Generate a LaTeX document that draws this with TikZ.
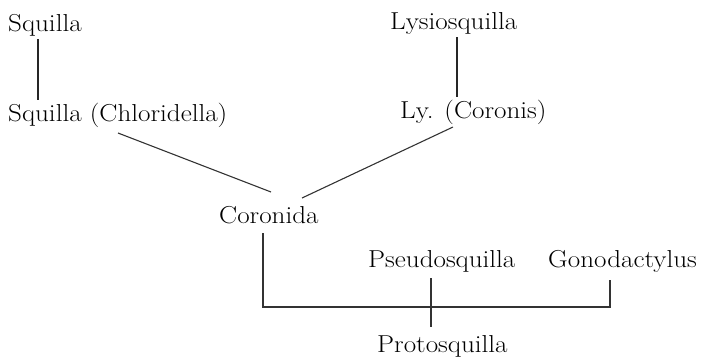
\documentclass[tikz,border=0pt]{standalone}
\usepackage{graphicx}
\begin{document}
\begin{tikzpicture}[x=1pt,y=-1pt,
  lbl/.style={anchor=base west,inner sep=0pt,font=\fontsize{24.5}{30}\selectfont},
  thick line/.style={line width=1.7pt,black!85},
  thin line/.style={line width=1.1pt,black!80}]
\newcommand\wide[1]{\scalebox{1.105}[1]{#1}}
\useasboundingbox (0,0) rectangle (701,357);
\node[lbl] (sq) at (8,31) {\wide{Squilla}};
\node[lbl] (sqc) at (8,121) {\wide{Squilla (Chloridella)}};
\node[lbl] (ly) at (390,29) {\wide{Lysiosquilla}};
\node[lbl] (lyc) at (400,118) {\wide{Ly. (Coronis)}};
\node[lbl] (cor) at (219,223) {\wide{Coronida}};
\node[lbl] (ps) at (368,267) {\wide{Pseudosquilla}};
\node[lbl] (go) at (548,267) {\wide{Gonodactylus}};
\node[lbl] (pr) at (377,352) {\wide{Protosquilla}};
% connector end points
\coordinate (a1) at (38,39);   \coordinate (a2) at (38,100);
\coordinate (b1) at (457,37);  \coordinate (b2) at (457,97);
\coordinate (c1) at (118,133); \coordinate (c2) at (271,192);
\coordinate (d1) at (453,127); \coordinate (d2) at (302,198);
\coordinate (e1) at (263,233); \coordinate (e2) at (263,307);
\coordinate (f)  at (610,307); \coordinate (f1) at (610,280);
\coordinate (g1) at (431,278); \coordinate (g2) at (431,327);
\draw[thick line] (a1) -- (a2);
\draw[thick line] (b1) -- (b2);
\draw[thin line] (c1) -- (c2);
\draw[thin line] (d1) -- (d2);
\draw[thin line] (e1) -- (e2) -- (f) -- (f1);
\draw[thin line] (g1) -- (g2);
\end{tikzpicture}
\end{document}
